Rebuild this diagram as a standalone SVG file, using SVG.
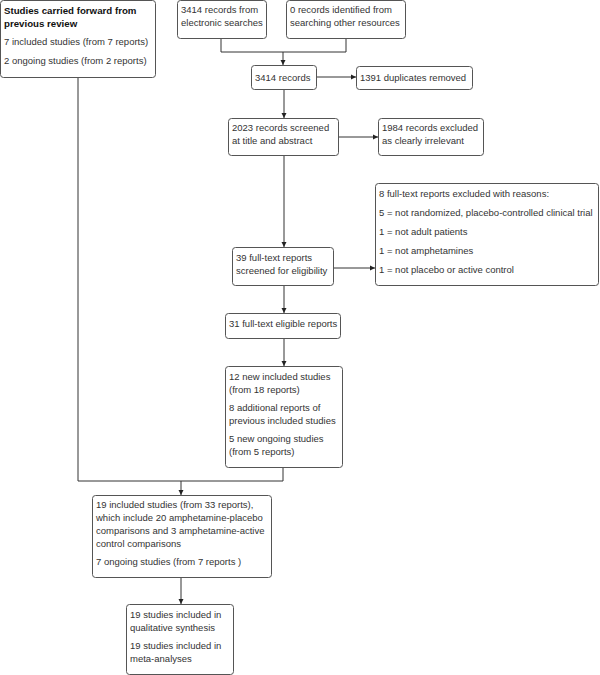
<svg xmlns="http://www.w3.org/2000/svg" width="600" height="675" viewBox="0 0 600 675">
<defs>
<marker id="ah" markerWidth="6" markerHeight="6" refX="5" refY="3" orient="auto" markerUnits="userSpaceOnUse">
<path d="M0,0.5 L5,3 L0,5.5 z" fill="#222"/>
</marker>
<style>
.box{fill:#fff;stroke:#555;stroke-width:1}
.t{font-family:"Liberation Sans",Arial,sans-serif;font-size:9.5px;fill:#333}
.b{font-family:"Liberation Sans",Arial,sans-serif;font-size:9.7px;font-weight:bold;fill:#111}
.c{fill:none;stroke:#333;stroke-width:1}
</style>
</defs>
<rect width="600" height="675" fill="#fff"/>
<g id="connectors">
<path class="c" d="M78,77 V481"/>
<path class="c" d="M221,38 V52 H346 V38"/>
<path class="c" d="M283,52 V65" marker-end="url(#ah)"/>
<path class="c" d="M316,77 H356" marker-end="url(#ah)"/>
<path class="c" d="M284,89 V118" marker-end="url(#ah)"/>
<path class="c" d="M338,137 H378" marker-end="url(#ah)"/>
<path class="c" d="M284,155 V247" marker-end="url(#ah)"/>
<path class="c" d="M333,268 H375" marker-end="url(#ah)"/>
<path class="c" d="M284,285 V313" marker-end="url(#ah)"/>
<path class="c" d="M284,338 V366" marker-end="url(#ah)"/>
<path class="c" d="M283,467 V481 H78"/>
<path class="c" d="M181,481 V495" marker-end="url(#ah)"/>
<path class="c" d="M181,577 V604" marker-end="url(#ah)"/>
</g>
<g id="n1">
<rect class="box" x="0.5" y="0.5" width="155" height="77" rx="3"/>
<text class="b" x="4" y="14">Studies carried forward from</text>
<text class="b" x="4" y="27">previous review</text>
<text class="t" x="4" y="45">7 included studies (from 7 reports)</text>
<text class="t" x="4" y="64">2 ongoing studies (from 2 reports)</text>
</g>
<g id="n2">
<rect class="box" x="177.5" y="0.5" width="89" height="38" rx="3"/>
<text class="t" x="181" y="13">3414 records from</text>
<text class="t" x="181" y="26">electronic searches</text>
</g>
<g id="n3">
<rect class="box" x="286.5" y="0.5" width="119" height="38" rx="3"/>
<text class="t" x="290" y="13">0 records identified from</text>
<text class="t" x="290" y="26">searching other resources</text>
</g>
<g id="n4">
<rect class="box" x="251.5" y="65.5" width="65" height="24" rx="3"/>
<text class="t" x="255" y="81">3414 records</text>
</g>
<g id="n5">
<rect class="box" x="356.5" y="66.5" width="116" height="23" rx="3"/>
<text class="t" x="360" y="81">1391 duplicates removed</text>
</g>
<g id="n6">
<rect class="box" x="228.5" y="118.5" width="110" height="37" rx="3"/>
<text class="t" x="232" y="131">2023 records screened</text>
<text class="t" x="232" y="144">at title and abstract</text>
</g>
<g id="n7">
<rect class="box" x="378.5" y="118.5" width="105" height="37" rx="3"/>
<text class="t" x="382" y="131">1984 records excluded</text>
<text class="t" x="382" y="144">as clearly irrelevant</text>
</g>
<g id="n8">
<rect class="box" x="375.5" y="183.5" width="223" height="102" rx="3"/>
<text class="t" x="379" y="197">8 full-text reports excluded with reasons:</text>
<text class="t" x="379" y="216">5 = not randomized, placebo-controlled clinical trial</text>
<text class="t" x="379" y="235">1 = not adult patients</text>
<text class="t" x="379" y="254">1 = not amphetamines</text>
<text class="t" x="379" y="273">1 = not placebo or active control</text>
</g>
<g id="n9">
<rect class="box" x="232.5" y="247.5" width="101" height="38" rx="3"/>
<text class="t" x="236" y="261">39 full-text reports</text>
<text class="t" x="236" y="274">screened for eligibility</text>
</g>
<g id="n10">
<rect class="box" x="225.5" y="313.5" width="115" height="25" rx="3"/>
<text class="t" x="229" y="327">31 full-text eligible reports</text>
</g>
<g id="n11">
<rect class="box" x="225.5" y="366.5" width="117" height="101" rx="3"/>
<text class="t" x="229" y="380">12 new included studies</text>
<text class="t" x="229" y="393">(from 18 reports)</text>
<text class="t" x="229" y="411">8 additional reports of</text>
<text class="t" x="229" y="424">previous included studies</text>
<text class="t" x="229" y="442">5 new ongoing studies</text>
<text class="t" x="229" y="455">(from 5 reports)</text>
</g>
<g id="n12">
<rect class="box" x="92.5" y="495.5" width="179" height="82" rx="3"/>
<text class="t" x="96" y="508">19 included studies (from 33 reports),</text>
<text class="t" x="96" y="521">which include 20 amphetamine-placebo</text>
<text class="t" x="96" y="534">comparisons and 3 amphetamine-active</text>
<text class="t" x="96" y="547">control comparisons</text>
<text class="t" x="96" y="565">7 ongoing studies (from 7 reports )</text>
</g>
<g id="n13">
<rect class="box" x="126.5" y="604.5" width="107" height="70" rx="3"/>
<text class="t" x="130" y="618">19 studies included in</text>
<text class="t" x="130" y="631">qualitative synthesis</text>
<text class="t" x="130" y="649">19 studies included in</text>
<text class="t" x="130" y="662">meta-analyses</text>
</g>
</svg>
